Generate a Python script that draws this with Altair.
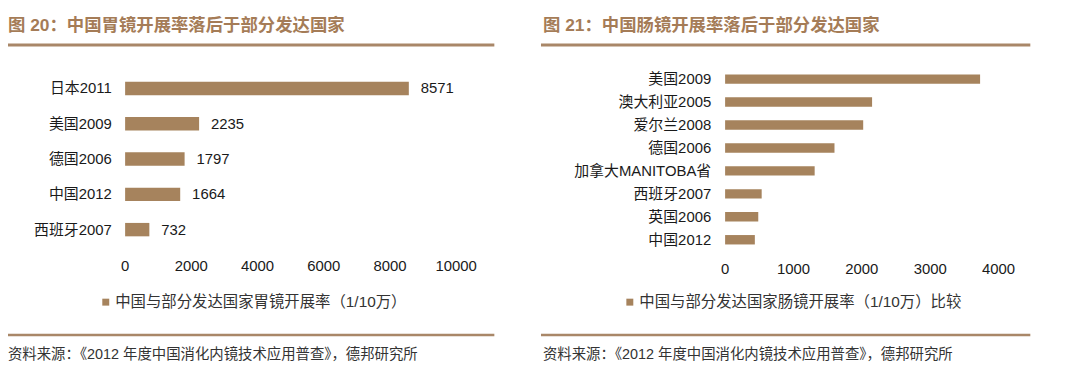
import altair as alt
import pandas as pd

# ---------------- data ----------------
gastro_countries = ["日本2011", "美国2009", "德国2006", "中国2012", "西班牙2007"]
gastro_rates = [8571, 2235, 1797, 1664, 732]
gastro_ticks = [0, 2000, 4000, 6000, 8000, 10000]

colo_countries = ["美国2009", "澳大利亚2005", "爱尔兰2008", "德国2006",
                  "加拿大MANITOBA省", "西班牙2007", "英国2006", "中国2012"]
colo_rates = [3730, 2150, 2020, 1600, 1310, 535, 485, 435]
colo_ticks = [0, 1000, 2000, 3000, 4000]

title_left = "图 20：中国胃镜开展率落后于部分发达国家"
title_right = "图 21：中国肠镜开展率落后于部分发达国家"
legend_left = "中国与部分发达国家胃镜开展率（1/10万）"
legend_right = "中国与部分发达国家肠镜开展率（1/10万）比较"
source_text = "资料来源：《2012 年度中国消化内镜技术应用普查》，德邦研究所"

# ---------------- style ----------------
W, H = 1072, 362
M = 8  # page margin
FONT = "Liberation Sans, Noto Sans CJK SC"
BAR = "#A6835D"
TITLE = "#A57C57"
LINE = "#A98768"
AX = "#868686"
TXT = "#1a1a1a"
LAB = 15


def P(v):
    return v - M


df_l = pd.DataFrame({"country": gastro_countries, "rate": gastro_rates})
df_r = pd.DataFrame({"country": colo_countries, "rate": colo_rates})

# ---------------- left panel ----------------
l_x0, l_x1 = 126, 459.5
l_y0, l_y1 = 70, 247.7
l_pi = 0.62
l_step = (l_y1 - l_y0) / len(gastro_countries)
xl = alt.Scale(domain=[0, 10000], range=[P(l_x0), P(l_x1)], nice=False)
yl = alt.Scale(domain=gastro_countries, range=[P(l_y0), P(l_y1)],
               paddingInner=l_pi, paddingOuter=l_pi / 2)

bars_l = alt.Chart(df_l).mark_bar(color=BAR).encode(
    x=alt.X("rate:Q", scale=xl, axis=alt.Axis(
        orient="top", offset=-P(l_y1), values=gastro_ticks, labels=False,
        tickSize=4, tickColor=AX, domainColor=AX, grid=False, title=None, zindex=1)),
    y=alt.Y("country:N", scale=yl, axis=alt.Axis(
        orient="right", offset=P(l_x0) - W, labels=False, tickSize=4,
        bandPosition=0, tickOffset=-(l_pi / 2) * l_step,
        tickColor=AX, domainColor=AX, grid=False, title=None, zindex=1)),
)
vals_l = alt.Chart(df_l).mark_text(align="left", baseline="middle", dx=12,
                                   font=FONT, fontSize=LAB, color=TXT).encode(
    x=alt.X("rate:Q", scale=xl, axis=None),
    y=alt.Y("country:N", scale=yl, axis=None),
    text=alt.Text("rate:Q", format="d"),
)
cats_l = alt.Chart(df_l).mark_text(align="right", baseline="middle",
                                   font=FONT, fontSize=LAB, color=TXT).encode(
    x=alt.value(P(112.5)),
    y=alt.Y("country:N", scale=yl, axis=None),
    text="country:N",
)
ticks_l = alt.Chart(pd.DataFrame({"t": gastro_ticks})).mark_text(
    align="center", baseline="middle", font=FONT, fontSize=LAB, color=TXT).encode(
    x=alt.X("t:Q", scale=xl, axis=None),
    y=alt.value(P(267)),
    text=alt.Text("t:Q", format="d"),
)
left = alt.layer(bars_l, vals_l, cats_l, ticks_l)

# ---------------- right panel ----------------
r_x0, r_x1 = 730.5, 1006
r_y0, r_y1 = 66.7, 251.7
r_pi = 0.59
r_step = (r_y1 - r_y0) / len(colo_countries)
xr = alt.Scale(domain=[0, 4000], range=[P(r_x0), P(r_x1)], nice=False)
yr = alt.Scale(domain=colo_countries, range=[P(r_y0), P(r_y1)],
               paddingInner=r_pi, paddingOuter=r_pi / 2)

bars_r = alt.Chart(df_r).mark_bar(color=BAR).encode(
    x=alt.X("rate:Q", scale=xr, axis=alt.Axis(
        orient="top", offset=-P(r_y1), values=colo_ticks, labels=False,
        tickSize=4, tickColor=AX, domainColor=AX, grid=False, title=None, zindex=1)),
    y=alt.Y("country:N", scale=yr, axis=alt.Axis(
        orient="right", offset=P(r_x0) - W, labels=False, tickSize=4,
        bandPosition=0, tickOffset=-(r_pi / 2) * r_step,
        tickColor=AX, domainColor=AX, grid=False, title=None, zindex=1)),
)
cats_r = alt.Chart(df_r).mark_text(align="right", baseline="middle",
                                   font=FONT, fontSize=LAB, color=TXT).encode(
    x=alt.value(P(716.5)),
    y=alt.Y("country:N", scale=yr, axis=None),
    text="country:N",
)
ticks_r = alt.Chart(pd.DataFrame({"t": colo_ticks})).mark_text(
    align="center", baseline="middle", font=FONT, fontSize=LAB, color=TXT).encode(
    x=alt.X("t:Q", scale=xr, axis=None),
    y=alt.value(P(270)),
    text=alt.Text("t:Q", format="d"),
)
right = alt.layer(bars_r, cats_r, ticks_r)

# ---------------- static decorations ----------------
one = alt.Data(values=[{"k": 1}])


def text_at(x, y, s, size, color, weight="normal"):
    return alt.Chart(one).mark_text(align="left", baseline="middle", font=FONT,
                                    fontSize=size, fontWeight=weight, color=color).encode(
        x=alt.value(x), y=alt.value(y), text=alt.value(s))


def hline(x0, x1, y, w, color):
    return alt.Chart(one).mark_rule(color=color, strokeWidth=w).encode(
        x=alt.value(x0), x2=alt.value(x1), y=alt.value(y))


def square(x0, y0, s, color):
    return alt.Chart(one).mark_rect(color=color).encode(
        x=alt.value(x0), x2=alt.value(x0 + s), y=alt.value(y0), y2=alt.value(y0 + s))


statics = [
    text_at(0, P(25), title_left, 17.5, TITLE, "bold"),
    text_at(P(547), P(25), title_right, 17.5, TITLE, "bold"),
    hline(0, P(498), P(44), 3, LINE),
    hline(P(545), P(1038), P(44), 3, LINE),
    square(P(103), P(299.5), 7, BAR),
    text_at(P(116), P(303), legend_left, 15.5, "#333333"),
    square(P(631), P(299.5), 7, BAR),
    text_at(P(644), P(303), legend_right, 15.5, "#333333"),
    hline(0, P(498), P(336), 2.5, LINE),
    hline(P(545), P(1038), P(336), 2.5, LINE),
    text_at(0, P(356), source_text, 14.5, "#333333"),
    text_at(P(547), P(356), source_text, 14.5, "#333333"),
]

chart = alt.layer(left, right, *statics).resolve_scale(
    x="independent", y="independent"
).properties(
    width=W, height=H, padding=0,
    autosize=alt.AutoSizeParams(type="none"),
    background="white",
).configure_view(stroke=None)

chart.save("out.html", embed_options={"renderer": "svg", "actions": False})
